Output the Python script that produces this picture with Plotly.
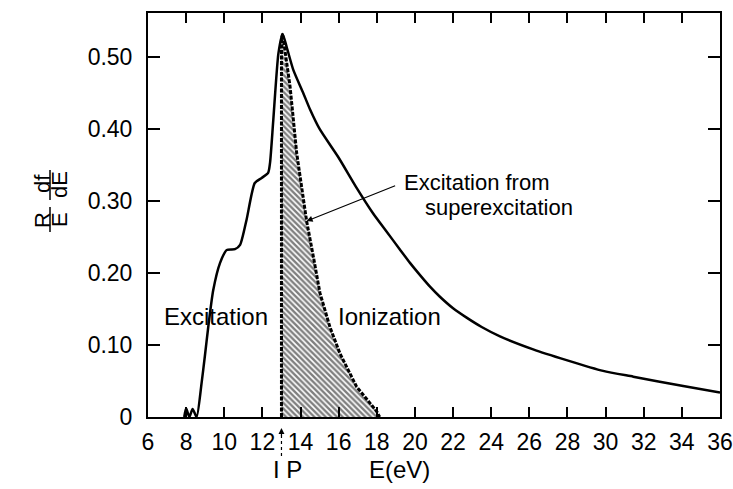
import plotly.graph_objects as go

# Oscillator-strength distribution (R/E)(df/dE) versus energy E (eV)
energy_total = [7.9, 8.0, 8.17, 8.34, 8.55, 8.81, 8.98, 9.16, 9.42, 9.78, 10.13,
                10.56, 10.83, 11.17, 11.6, 11.96, 12.3, 12.4, 12.57, 12.84, 13.06,
                13.27, 13.62, 14.14, 14.5, 15.0, 16.0, 16.9, 17.8, 18.5, 19.2,
                19.74, 20.3, 20.79, 21.31, 22.0, 22.71, 23.5, 24.46, 26.2, 27.95,
                29.87, 31.45, 34.07, 36.0]
value_total = [0.0, 0.012, 0.0, 0.011, 0.0, 0.047, 0.084, 0.125, 0.176, 0.214, 0.232,
               0.233, 0.239, 0.274, 0.325, 0.332, 0.339, 0.353, 0.412, 0.505, 0.532,
               0.514, 0.482, 0.450, 0.427, 0.400, 0.360, 0.320, 0.283, 0.258, 0.233,
               0.214, 0.196, 0.181, 0.167, 0.151, 0.138, 0.125, 0.112, 0.094, 0.079,
               0.064, 0.056, 0.043, 0.034]

# Superexcitation part above the ionization potential
ionization_potential = 13.0
energy_super = [13.0, 13.0, 13.06, 13.45, 13.8, 14.32, 14.67, 15.02, 15.54, 16.07,
                16.94, 17.6, 17.99, 18.15]
value_super = [0.0, 0.525, 0.532, 0.459, 0.366, 0.272, 0.223, 0.172, 0.125, 0.088,
               0.042, 0.020, 0.008, 0.0]

x_ticks = list(range(6, 37, 2))
y_ticks = [0, 0.1, 0.2, 0.3, 0.4, 0.5]
y_tick_text = ["0", "0.10", "0.20", "0.30", "0.40", "0.50"]

FONT = "Liberation Sans, Arial, sans-serif"

fig = go.Figure()

fig.add_trace(go.Scatter(
    x=energy_super, y=value_super, mode="lines", fill="toself",
    fillcolor="white",
    fillpattern=dict(shape="\\", fgcolor="black", bgcolor="white",
                     size=4, solidity=0.6),
    line=dict(color="black", width=3, dash="4px,1.5px"),
    hoverinfo="skip", showlegend=False,
))

fig.add_trace(go.Scatter(
    x=energy_total, y=value_total, mode="lines",
    line=dict(color="black", width=2.5, shape="spline", smoothing=0.6),
    showlegend=False,
))

axis_common = dict(
    showline=True, linewidth=2, linecolor="black", mirror="ticks",
    ticks="inside", tickwidth=1.5, tickcolor="black",
    showgrid=False, zeroline=False, automargin=False,
    tickfont=dict(family=FONT, size=23, color="black"),
)

fig.update_xaxes(range=[6, 36], tickvals=x_ticks, ticklen=10,
                 ticklabelstandoff=3, **axis_common)
fig.update_yaxes(range=[0, 0.561], tickvals=y_ticks, ticktext=y_tick_text,
                 ticklen=12, ticklabelstandoff=9, **axis_common)

text_font = dict(family=FONT, size=24, color="black")
note_font = dict(family=FONT, size=22, color="black")
annotations = [
    dict(x=9.57, y=0.14, text="Excitation", showarrow=False, font=text_font),
    dict(x=18.69, y=0.14, text="Ionization", showarrow=False, font=text_font),
    dict(x=19.32, y=0.326, text="Excitation from", xanchor="left",
         showarrow=False, font=note_font),
    dict(x=20.42, y=0.291, text="superexcitation", xanchor="left",
         showarrow=False, font=note_font),
    # pointer from the label to the superexcitation curve
    dict(x=14.32, y=0.272, text="", showarrow=True, ax=90, ay=-36,
         arrowhead=2, arrowsize=1, arrowwidth=1.2, arrowcolor="black"),
    # axis captions below the x axis
    dict(x=13.34, y=-0.131, yref="paper", yanchor="middle", text="I P",
         showarrow=False, font=text_font),
    dict(x=19.21, y=-0.131, yref="paper", yanchor="middle", text="E(eV)",
         showarrow=False, font=text_font),
    dict(x=ionization_potential, y=-0.027, yref="paper", text="",
         showarrow=True, ax=0, ay=9, arrowhead=2, arrowsize=1,
         arrowwidth=1.2, arrowcolor="black"),
]

# y-axis caption written as two stacked fractions, R/E and df/dE
label_font = dict(family=FONT, size=22, color="black")
for txt, px, py in [("R", 42, 220), ("E", 59, 220), ("df", 42, 184), ("dE", 59, 185)]:
    annotations.append(dict(
        x=(px - 148) / 572, y=(417 - py) / 404, xref="paper", yref="paper",
        xanchor="center", yanchor="middle",
        text=txt, textangle=-90, showarrow=False, font=label_font))

shapes = [
    dict(type="line", xref="paper", yref="paper",
         x0=(50 - 148) / 572, x1=(50 - 148) / 572,
         y0=(417 - 232) / 404, y1=(417 - 207) / 404,
         line=dict(color="black", width=1.5)),
    dict(type="line", xref="paper", yref="paper",
         x0=(50 - 148) / 572, x1=(50 - 148) / 572,
         y0=(417 - 200) / 404, y1=(417 - 170) / 404,
         line=dict(color="black", width=1.5)),
    dict(type="line", xref="x", yref="paper",
         x0=ionization_potential, x1=ionization_potential,
         y0=(417 - 456) / 404, y1=(417 - 432) / 404,
         line=dict(color="black", width=1.2, dash="dot")),
]

fig.update_layout(
    width=733, height=489,
    margin=dict(l=148, r=13, t=13, b=72),
    paper_bgcolor="white", plot_bgcolor="white",
    annotations=annotations, shapes=shapes,
    font=dict(family=FONT, color="black"),
)

fig.write_html("out.html")
